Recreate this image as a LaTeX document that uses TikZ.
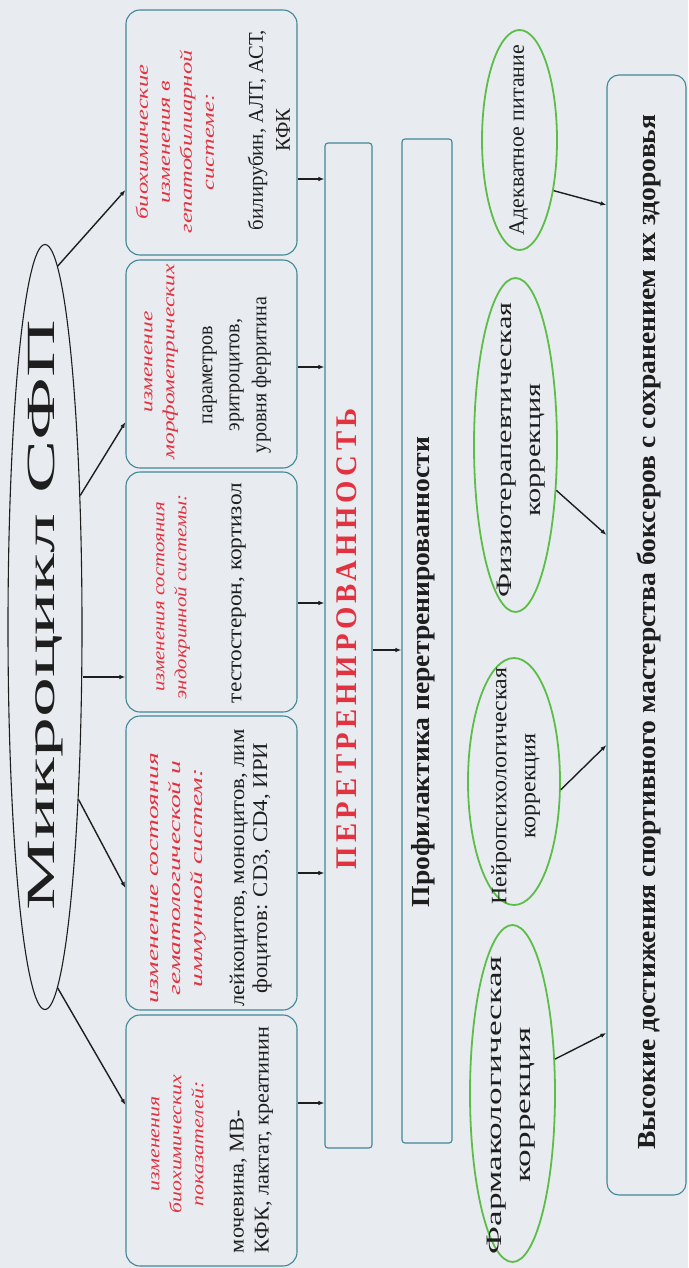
\documentclass[tikz,border=0pt]{standalone}
\usepackage{fontspec}
\setmainfont{Liberation Serif}
\usepackage{graphicx}
\usetikzlibrary{shapes.geometric,arrows.meta}
\definecolor{bgc}{HTML}{E8ECF0}
\definecolor{boxcol}{HTML}{3F8796}
\definecolor{redt}{HTML}{E2323F}
\definecolor{grn}{HTML}{5CBE48}
\definecolor{ink}{HTML}{1E1E1E}
% #1 length along reading direction, #2 column spec, #3 font, #4 lines
\newcommand\fitrot[4]{\rotatebox{90}{\resizebox{#1}{\height}{#3\begin{tabular}{@{}#2@{}}#4\end{tabular}}}}
\newcommand\redf{\fontsize{17}{22}\selectfont\itshape\color{redt}}
\newcommand\blkf{\fontsize{21}{27}\selectfont\color{ink}}
\newcommand\grnf{\fontsize{22}{29}\selectfont\color{ink}}
\tikzset{
  box/.style={draw=boxcol, line width=1.1pt, rounded corners=14pt, inner sep=0pt},
  sqbox/.style={draw=boxcol, line width=1.1pt, rounded corners=3pt, inner sep=0pt},
  gell/.style={ellipse, draw=grn, line width=1.8pt, inner sep=0pt},
  lbl/.style={inner sep=0pt},
  arr/.style={draw=ink, line width=1.4pt, -{Latex[length=6pt,width=4.5pt]}}
}
\begin{document}
\begin{tikzpicture}[x=1pt,y=-1pt]
\useasboundingbox (0,0) rectangle (688,1268);
\fill[bgc] (0,0) rectangle (688,1268);

% main ellipse
\node[ellipse, draw=ink, line width=1.1pt, minimum width=74pt, minimum height=765pt, inner sep=0pt] (m) at (45,627) {};
\node[lbl] (mt) at (46,615) {\fitrot{590pt}{c}{\fontsize{40}{40}\selectfont\color{ink}}{Микроцикл СФП}};

% left boxes
\node[box, minimum width=171pt, minimum height=245pt] (b1) at (211.5,132.5) {};
\node[box, minimum width=171pt, minimum height=208pt] (b2) at (211.5,364) {};
\node[box, minimum width=171pt, minimum height=240pt] (b3) at (211.5,592) {};
\node[box, minimum width=171pt, minimum height=294pt] (b4) at (211.5,863) {};
\node[box, minimum width=171pt, minimum height=251pt] (b5) at (211.5,1140.5) {};

\node[lbl] (t1r) at (176.5,142) {\fitrot{183pt}{c}{\redf}{биохимические\\изменения в\\гепатобилиарной\\системе:}};
\node[lbl] (t1k) at (271,130) {\fitrot{200pt}{c}{\blkf}{билирубин, АЛТ, АСТ,\\КФК}};
\node[lbl] (t2r) at (159,362) {\fitrot{195pt}{c}{\redf}{изменение\\морфометрических}};
\node[lbl] (t2k) at (234,375) {\fitrot{156pt}{c}{\blkf}{параметров\\эритроцитов,\\уровня ферритина}};
\node[lbl] (t3r) at (171,597) {\fitrot{205pt}{c}{\redf}{изменения состояния\\эндокринной системы:}};
\node[lbl] (t3k) at (236,593) {\fitrot{220pt}{c}{\blkf}{тестостерон, кортизол}};
\node[lbl] (t4r) at (176,878) {\fitrot{250pt}{c}{\redf}{изменение состояния\\гематологической и\\иммунной систем:}};
\node[lbl] (t4k) at (251,868) {\fitrot{277pt}{c}{\fontsize{21}{23}\selectfont\color{ink}}{лейкоцитов, моноцитов, лим\\фоцитов: CD3, CD4, ИРИ}};
\node[lbl] (t5r) at (177,1144) {\fitrot{138pt}{c}{\redf}{изменения\\биохимических\\показателей:}};
\node[lbl] (t5k) at (251,1140) {\fitrot{226pt}{l}{\fontsize{21}{25}\selectfont\color{ink}}{мочевина, МВ-\\КФК, лактат, креатинин}};

% middle boxes
\node[sqbox, minimum width=47pt, minimum height=1005pt] (p) at (348.5,645.5) {};
\node[lbl] (pt) at (350,639) {\fitrot{461pt}{c}{\fontsize{30}{30}\selectfont\bfseries\addfontfeature{LetterSpace=15}\color{redt}}{ПЕРЕТРЕНИРОВАННОСТЬ}};
\node[sqbox, minimum width=50pt, minimum height=1004pt] (q) at (427,641) {};
\node[lbl] (qt) at (424,672) {\fitrot{470pt}{c}{\fontsize{26}{26}\selectfont\bfseries\color{ink}}{Профилактика перетренированности}};

% right side
\node[gell, minimum width=75pt, minimum height=220pt] (g1) at (519.5,140) {};
\node[lbl] (g1t) at (518,140) {\fitrot{190pt}{c}{\grnf}{Адекватное питание}};
\node[gell, minimum width=83pt, minimum height=334pt] (g2) at (515.5,445) {};
\node[lbl] (g2t) at (520,450) {\fitrot{295pt}{c}{\grnf}{Физиотерапевтическая\\коррекция}};
\node[gell, minimum width=92pt, minimum height=247pt] (g3) at (514,781.5) {};
\node[lbl] (g3t) at (515,786) {\fitrot{237pt}{c}{\grnf}{Нейропсихологическая\\коррекция}};
\node[gell, minimum width=85pt, minimum height=337pt] (g4) at (512.5,1093.5) {};
\node[lbl] (g4t) at (510,1105) {\fitrot{298pt}{c}{\grnf}{Фармакологическая\\коррекция}};

\node[box, rounded corners=12pt, minimum width=79pt, minimum height=1120pt] (h) at (646.5,635) {};
\node[lbl] (ht) at (650,632) {\fitrot{1035pt}{c}{\fontsize{26}{26}\selectfont\bfseries\color{ink}}{Высокие достижения спортивного мастерства боксеров с сохранением их здоровья}};

% connectors from main ellipse
\draw[arr] (m.88) -- ([yshift=-57.5pt]b1.west);
\draw[arr] (m.75) -- ([yshift=-58pt]b2.west);
\draw[arr] ([yshift=-50pt]m.east) -- ([yshift=-85pt]b3.west);
\draw[arr] (m.281) -- ([yshift=-25pt]b4.west);
\draw[arr] (m.272) -- ([yshift=35.5pt]b5.west);

% boxes to overtraining
\draw[arr] ([yshift=-46.5pt]b1.east) -- ([yshift=466.5pt]p.west);
\draw[arr] ([yshift=-3pt]b2.east) -- ([yshift=278.5pt]p.west);
\draw[arr] ([yshift=-11pt]b3.east) -- ([yshift=42.5pt]p.west);
\draw[arr] ([yshift=-10pt]b4.east) -- ([yshift=-227.5pt]p.west);
\draw[arr] ([yshift=37.5pt]b5.east) -- ([yshift=-457.5pt]p.west);
\draw[arr] ([yshift=-4.5pt]p.east) -- ([yshift=-9pt]q.west);

% green ellipses to result
\draw[arr] (g1.304) -- ([yshift=430pt]h.west);
\draw[arr] (g2.312) -- ([yshift=100pt]h.west);
\draw[arr] (g3.350) -- ([yshift=-110pt]h.west);
\draw[arr] (g4.39) -- ([yshift=-398pt]h.west);
\end{tikzpicture}
\end{document}
